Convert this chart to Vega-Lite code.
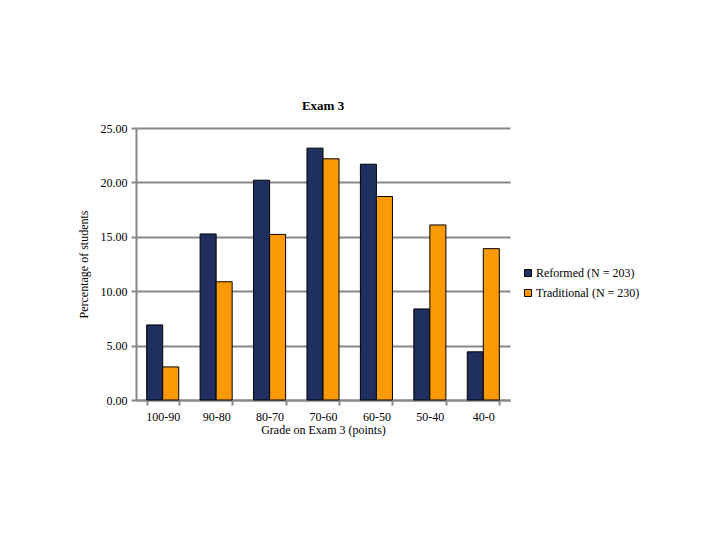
{
  "$schema": "https://vega.github.io/schema/vega-lite/v6.json",
  "autosize": {"type": "none"},
  "padding": {"left": 136, "top": 128, "right": 210, "bottom": 140},
  "width": 374,
  "height": 272,
  "background": "white",
  "config": {
    "font": "Liberation Serif",
    "view": {"stroke": null}
  },
  "title": {"text": "Exam 3", "fontSize": 13, "fontWeight": "bold", "font": "Liberation Serif", "color": "black", "offset": 9},
  "data": {
    "values": [
      {"grade": "100-90", "group": "Reformed (N = 203)", "pct": 6.9},
      {"grade": "90-80", "group": "Reformed (N = 203)", "pct": 15.26},
      {"grade": "80-70", "group": "Reformed (N = 203)", "pct": 20.2},
      {"grade": "70-60", "group": "Reformed (N = 203)", "pct": 23.15},
      {"grade": "60-50", "group": "Reformed (N = 203)", "pct": 21.67},
      {"grade": "50-40", "group": "Reformed (N = 203)", "pct": 8.37},
      {"grade": "40-0", "group": "Reformed (N = 203)", "pct": 4.43},
      {"grade": "100-90", "group": "Traditional (N = 230)", "pct": 3.04},
      {"grade": "90-80", "group": "Traditional (N = 230)", "pct": 10.87},
      {"grade": "80-70", "group": "Traditional (N = 230)", "pct": 15.22},
      {"grade": "70-60", "group": "Traditional (N = 230)", "pct": 22.17},
      {"grade": "60-50", "group": "Traditional (N = 230)", "pct": 18.7},
      {"grade": "50-40", "group": "Traditional (N = 230)", "pct": 16.09},
      {"grade": "40-0", "group": "Traditional (N = 230)", "pct": 13.91}
    ]
  },
  "mark": {"type": "bar", "stroke": "black", "strokeWidth": 1},
  "encoding": {
    "x": {
      "field": "grade", "type": "nominal",
      "sort": ["100-90", "90-80", "80-70", "70-60", "60-50", "50-40", "40-0"],
      "scale": {"paddingInner": 0.4, "paddingOuter": 0.2},
      "axis": {
        "title": "Grade on Exam 3 (points)", "titleFont": "Liberation Serif", "titleFontWeight": "normal", "titleFontSize": 12, "titleColor": "black", "titlePadding": 2,
        "labelAngle": 0, "labelFont": "Liberation Serif", "labelFontSize": 12, "labelColor": "black", "labelPadding": 6,
        "domainColor": "#888888", "domainWidth": 2, "tickColor": "#888888", "tickWidth": 2, "tickSize": 5, "tickBand": "extent"
      }
    },
    "xOffset": {"field": "group", "type": "nominal", "scale": {"paddingInner": 0, "paddingOuter": 0}},
    "y": {
      "field": "pct", "type": "quantitative",
      "scale": {"domain": [0, 25]},
      "axis": {
        "title": "Percentage of students", "titleFont": "Liberation Serif", "titleFontWeight": "normal", "titleFontSize": 12, "titleColor": "black", "titlePadding": 10,
        "values": [0, 5, 10, 15, 20, 25], "format": ".2f",
        "labelFont": "Liberation Serif", "labelFontSize": 12, "labelColor": "black", "labelPadding": 4,
        "domainColor": "#888888", "domainWidth": 2, "tickColor": "#888888", "tickWidth": 2, "tickSize": 5,
        "grid": true, "gridColor": "#888888", "gridWidth": 2
      }
    },
    "color": {
      "field": "group", "type": "nominal",
      "scale": {"range": ["#1f2f60", "#fb9a05"]},
      "legend": {
        "title": null, "orient": "none", "legendX": 386, "legendY": 139,
        "symbolType": "square", "symbolSize": 49, "symbolStrokeColor": "black", "symbolStrokeWidth": 1,
        "labelFont": "Liberation Serif", "labelFontSize": 12, "labelColor": "black", "rowPadding": 8, "labelOffset": 2
      }
    }
  }
}
